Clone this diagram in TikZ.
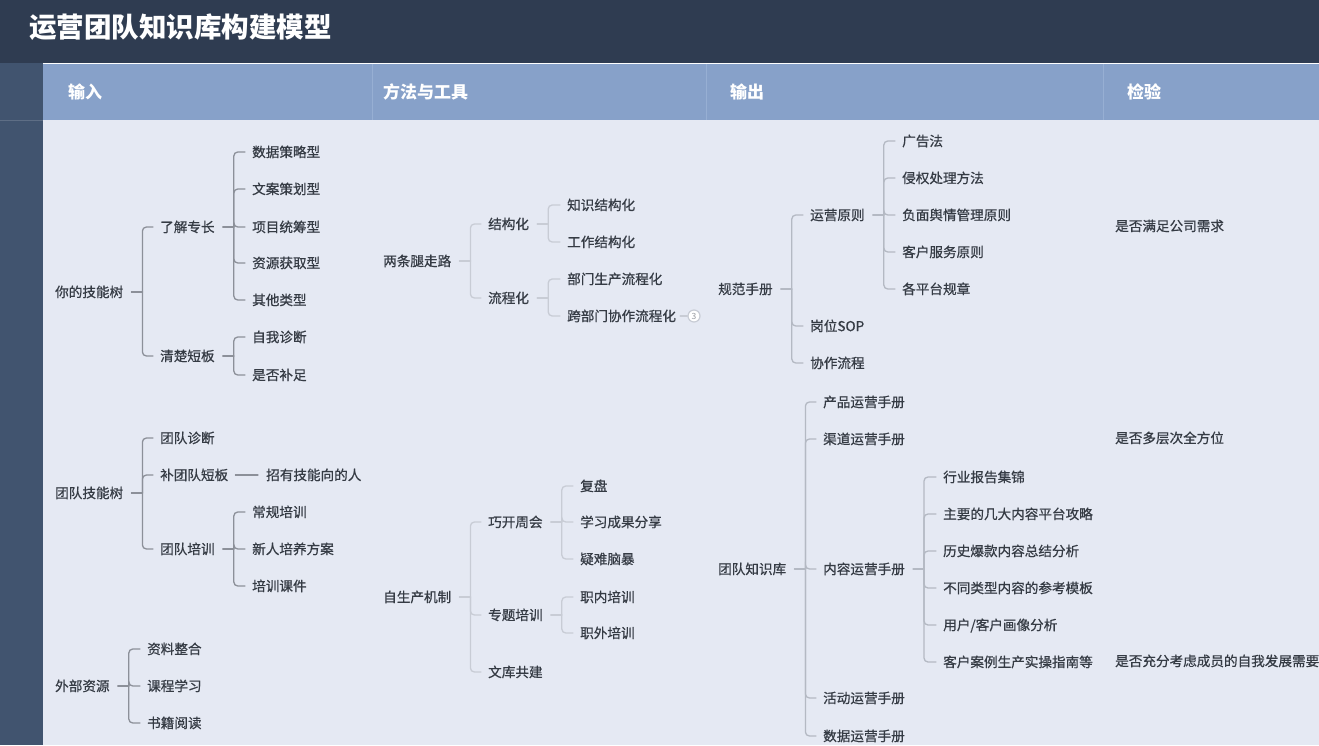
\documentclass[tikz,border=0pt]{standalone}
\usepackage{fontspec}
\setmainfont{Noto Sans CJK SC}
\newfontfamily\bodyfont{Noto Sans CJK SC}[FakeBold=0.7]
\usetikzlibrary{calc}
\definecolor{titlebg}{HTML}{2F3C51}
\definecolor{stripbg}{HTML}{41546F}
\definecolor{headbg}{HTML}{87A1C9}
\definecolor{headsep}{HTML}{97AFD3}
\definecolor{bodybg}{HTML}{E5E9F3}
\definecolor{txtc}{HTML}{353B44}
\definecolor{conA}{HTML}{8C9099}
\definecolor{conB}{HTML}{C8CCD5}
\definecolor{conC}{HTML}{B4B9C3}
\newcommand\stem[1]{\draw ($(#1.east)+(8,0)$) -- ($(#1.east)+(19,0)$);}
\newcommand\branchto[2]{\draw[rounded corners=4pt] ($(#1.east)+(19,0)$) |- ($(#2.west)+(-7,0)$);}
\begin{document}
\begin{tikzpicture}[x=1pt,y=-1pt,
  txt/.style={anchor=west,inner sep=0pt,text=txtc,font=\bodyfont\fontsize{13.6}{14}\selectfont,text height=11.2pt,text depth=1pt},
  headtxt/.style={anchor=west,inner sep=0pt,text=white,font=\fontsize{17}{18}\selectfont\bfseries,text height=14pt,text depth=1.2pt},
  conn/.style={line width=1.3pt,line cap=round}]
\useasboundingbox (0,0) rectangle (1319,745);
% backgrounds
\fill[titlebg] (0,0) rectangle (1319,63);
\fill[stripbg] (0,63) rectangle (43,745);
\fill[headbg] (43,64) rectangle (1319,120);
\fill[bodybg] (43,120) rectangle (1319,745);
\draw[headsep,line width=0.8pt] (372,64) -- (372,120) (706,64) -- (706,120) (1103,64) -- (1103,120);
\draw[stripbg!85!white,line width=0.8pt] (0,120) -- (43,120);
% title and headers
\node[anchor=west,inner sep=0pt,text=white,font=\fontsize{27.5}{29}\selectfont\bfseries,text height=22pt,text depth=2pt] (title) at (29,27) {运营团队知识库构建模型};
\node[headtxt] (h1) at (68,92) {输入};
\node[headtxt] (h2) at (383,92) {方法与工具};
\node[headtxt] (h3) at (730,92) {输出};
\node[headtxt] (h4) at (1127,92) {检验};
% column 1
\node[txt] (a1) at (55,292) {你的技能树};
\node[txt] (a11) at (160,227) {了解专长};
\node[txt] (a111) at (252,152) {数据策略型};
\node[txt] (a112) at (252,189) {文案策划型};
\node[txt] (a113) at (252,227) {项目统筹型};
\node[txt] (a114) at (252,263) {资源获取型};
\node[txt] (a115) at (252,300) {其他类型};
\node[txt] (a12) at (160,356) {清楚短板};
\node[txt] (a121) at (252,337) {自我诊断};
\node[txt] (a122) at (252,375) {是否补足};
\node[txt] (a2) at (55,493) {团队技能树};
\node[txt] (a21) at (160,438) {团队诊断};
\node[txt] (a22) at (160,475) {补团队短板};
\node[txt] (a221) at (266,475) {招有技能向的人};
\node[txt] (a23) at (160,549) {团队培训};
\node[txt] (a231) at (252,512) {常规培训};
\node[txt] (a232) at (252,549) {新人培养方案};
\node[txt] (a233) at (252,586) {培训课件};
\node[txt] (a3) at (55,686) {外部资源};
\node[txt] (a31) at (147,649) {资料整合};
\node[txt] (a32) at (147,686) {课程学习};
\node[txt] (a33) at (147,723) {书籍阅读};
% column 2
\node[txt] (b1) at (383,261) {两条腿走路};
\node[txt] (b11) at (488,224) {结构化};
\node[txt] (b111) at (567,205) {知识结构化};
\node[txt] (b112) at (567,242) {工作结构化};
\node[txt] (b12) at (488,298) {流程化};
\node[txt] (b121) at (567,279) {部门生产流程化};
\node[txt] (b122) at (567,316) {跨部门协作流程化};
\node[circle,draw=conB,fill=white,line width=1.2pt,inner sep=0pt,minimum size=12pt,text=conB!75!black,font=\fontsize{8.5}{9}\selectfont] (b122n) at (694,316) {3};
\node[txt] (b2) at (383,597) {自生产机制};
\node[txt] (b21) at (488,522) {巧开周会};
\node[txt] (b211) at (580,486) {复盘};
\node[txt] (b212) at (580,522) {学习成果分享};
\node[txt] (b213) at (580,559) {疑难脑暴};
\node[txt] (b22) at (488,615) {专题培训};
\node[txt] (b221) at (580,597) {职内培训};
\node[txt] (b222) at (580,633) {职外培训};
\node[txt] (b23) at (488,672) {文库共建};
% column 3
\node[txt] (c1) at (718,289) {规范手册};
\node[txt] (c11) at (810,215) {运营原则};
\node[txt] (c111) at (902,141) {广告法};
\node[txt] (c112) at (902,178) {侵权处理方法};
\node[txt] (c113) at (902,215) {负面舆情管理原则};
\node[txt] (c114) at (902,252) {客户服务原则};
\node[txt] (c115) at (902,289) {各平台规章};
\node[txt] (c12) at (810,326) {岗位SOP};
\node[txt] (c13) at (810,363) {协作流程};
\node[txt] (c2) at (718,569) {团队知识库};
\node[txt] (c21) at (823,402) {产品运营手册};
\node[txt] (c22) at (823,439) {渠道运营手册};
\node[txt] (c23) at (823,569) {内容运营手册};
\node[txt] (c231) at (943,477) {行业报告集锦};
\node[txt] (c232) at (943,514) {主要的几大内容平台攻略};
\node[txt] (c233) at (943,551) {历史爆款内容总结分析};
\node[txt] (c234) at (943,588) {不同类型内容的参考模板};
\node[txt] (c235) at (943,625) {用户/客户画像分析};
\node[txt] (c236) at (943,662) {客户案例生产实操指南等};
\node[txt] (c24) at (823,698) {活动运营手册};
\node[txt] (c25) at (823,736) {数据运营手册};
% column 4
\node[txt] (d1) at (1115,226) {是否满足公司需求};
\node[txt] (d2) at (1115,438) {是否多层次全方位};
\node[txt] (d3) at (1115,661) {是否充分考虑成员的自我发展需要};
% connectors column 1
\begin{scope}[conn,draw=conA]
\stem{a1}
\foreach \c in {a11,a12} {\branchto{a1}{\c}}
\stem{a11}
\foreach \c in {a111,a112,a113,a114,a115} {\branchto{a11}{\c}}
\stem{a12}
\foreach \c in {a121,a122} {\branchto{a12}{\c}}
\stem{a2}
\foreach \c in {a21,a22,a23} {\branchto{a2}{\c}}
\draw ($(a22.east)+(7,0)$) -- ($(a221.west)+(-8,0)$);
\stem{a23}
\foreach \c in {a231,a232,a233} {\branchto{a23}{\c}}
\stem{a3}
\foreach \c in {a31,a32,a33} {\branchto{a3}{\c}}
\end{scope}
% connectors column 2
\begin{scope}[conn,draw=conB]
\stem{b1}
\foreach \c in {b11,b12} {\branchto{b1}{\c}}
\stem{b11}
\foreach \c in {b111,b112} {\branchto{b11}{\c}}
\stem{b12}
\foreach \c in {b121,b122} {\branchto{b12}{\c}}
\draw ($(b122.east)+(4,0)$) -- (b122n.west);
\stem{b2}
\foreach \c in {b21,b22,b23} {\branchto{b2}{\c}}
\stem{b21}
\foreach \c in {b211,b212,b213} {\branchto{b21}{\c}}
\stem{b22}
\foreach \c in {b221,b222} {\branchto{b22}{\c}}
\end{scope}
% connectors column 3
\begin{scope}[conn,draw=conC]
\stem{c1}
\foreach \c in {c11,c12,c13} {\branchto{c1}{\c}}
\stem{c11}
\foreach \c in {c111,c112,c113,c114,c115} {\branchto{c11}{\c}}
\stem{c2}
\foreach \c in {c21,c22,c23,c24,c25} {\branchto{c2}{\c}}
\stem{c23}
\foreach \c in {c231,c232,c233,c234,c235,c236} {\branchto{c23}{\c}}
\end{scope}
\end{tikzpicture}
\end{document}
